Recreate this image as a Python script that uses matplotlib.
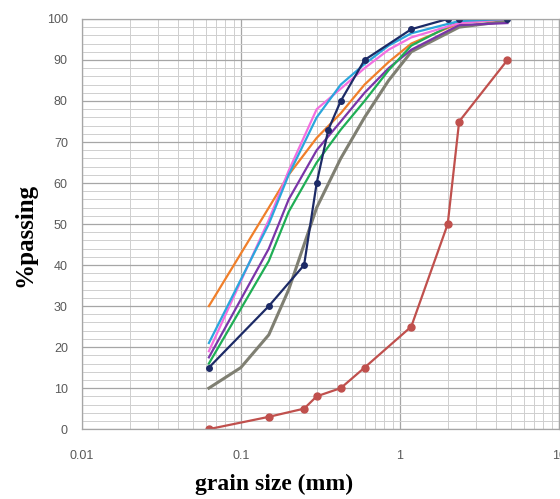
import numpy as np
import matplotlib
matplotlib.use("Agg")
import matplotlib.pyplot as plt
from matplotlib.ticker import LogLocator, FixedLocator, NullFormatter

# sieve sizes (mm)
sieve_full = [0.063, 0.15, 0.25, 0.3, 0.425, 0.6, 1.18, 2.0, 2.36, 4.75]
sieve_navy = [0.063, 0.15, 0.25, 0.3, 0.355, 0.425, 0.6, 1.18, 2.0, 2.36, 4.75]
sieve_smooth = [0.063, 0.15, 0.2, 0.3, 0.425, 0.6, 0.85, 1.18, 2.36, 4.75]
sieve_gray = [0.063, 0.1, 0.15, 0.2, 0.25, 0.3, 0.425, 0.6, 0.85, 1.18, 2.36, 4.75]

# % passing
red = [0, 3, 5, 8, 10, 15, 25, 50, 75, 90]
navy = [15, 30, 40, 60, 73, 80, 90, 97.5, 100, 100, 100]
orange = [30, 54, 62, 71, 77, 84, 89.5, 94, 99, 100]
cyan = [21, 50, 62, 76, 84, 89, 93.5, 96.5, 99.5, 100]
pink = [19, 51, 63, 78, 83, 88, 92.5, 95.5, 99, 100]
purple = [17.5, 44, 56, 68, 75, 82, 88, 92.5, 98.5, 99]
green = [16, 41, 53, 65, 73, 80, 87.5, 93.5, 99.5, 100]
gray = [10, 15, 23, 34, 45, 54, 66, 76, 85, 92, 98, 99.5]

fig = plt.figure(figsize=(5.6, 4.99), dpi=100)
ax = fig.add_axes([0.146, 0.140, 0.852, 0.822])

ax.set_xscale("log")
ax.set_xlim(0.01, 10)
ax.set_ylim(0, 100)

# grid
ax.xaxis.set_major_locator(LogLocator(base=10))
ax.xaxis.set_minor_locator(LogLocator(base=10, subs=np.arange(2, 10)))
ax.xaxis.set_minor_formatter(NullFormatter())
ax.yaxis.set_major_locator(FixedLocator(np.arange(0, 101, 10)))
ax.yaxis.set_minor_locator(FixedLocator(np.arange(0, 101, 2)))
ax.grid(which="major", color="#a6a6a6", lw=0.9)
ax.grid(which="minor", color="#cfcfcf", lw=0.7)
ax.set_axisbelow(True)
for s in ax.spines.values():
    s.set_color("#a6a6a6")
    s.set_linewidth(0.9)
ax.tick_params(which="both", length=0)
ax.tick_params(axis="both", labelsize=9, labelcolor="#595959")
ax.tick_params(axis="y", pad=10)
ax.tick_params(axis="x", pad=15)
ax.set_xticks([0.01, 0.1, 1, 10])
ax.set_xticklabels(["0.01", "0.1", "1", "10"])
for lab in ax.get_xticklabels() + ax.get_yticklabels():
    lab.set_family("Liberation Sans")

lw = 1.6
ax.plot(sieve_full, red, color="#c0504d", lw=lw, marker="o", ms=5)
ax.plot(sieve_gray, gray, color="#7f7f72", lw=2.2)
ax.plot(sieve_smooth, orange, color="#f07f2a", lw=lw)
ax.plot(sieve_smooth, purple, color="#7a35a8", lw=lw)
ax.plot(sieve_smooth, green, color="#1fae55", lw=lw)
ax.plot(sieve_smooth, pink, color="#f36fe0", lw=lw)
ax.plot(sieve_smooth, cyan, color="#2aa6dc", lw=lw)
ax.plot(sieve_navy, navy, color="#1c2a66", lw=lw, marker="o", ms=4)

ax.set_xlabel("grain size (mm)", family="Liberation Serif", fontweight="bold",
              fontsize=17)
ax.xaxis.set_label_coords(0.404, -0.11)
ax.set_ylabel("%passing", family="Liberation Serif", fontweight="bold",
              fontsize=18)
ax.yaxis.set_label_coords(-0.095, 0.473)

fig.savefig("out.png", dpi=100)
